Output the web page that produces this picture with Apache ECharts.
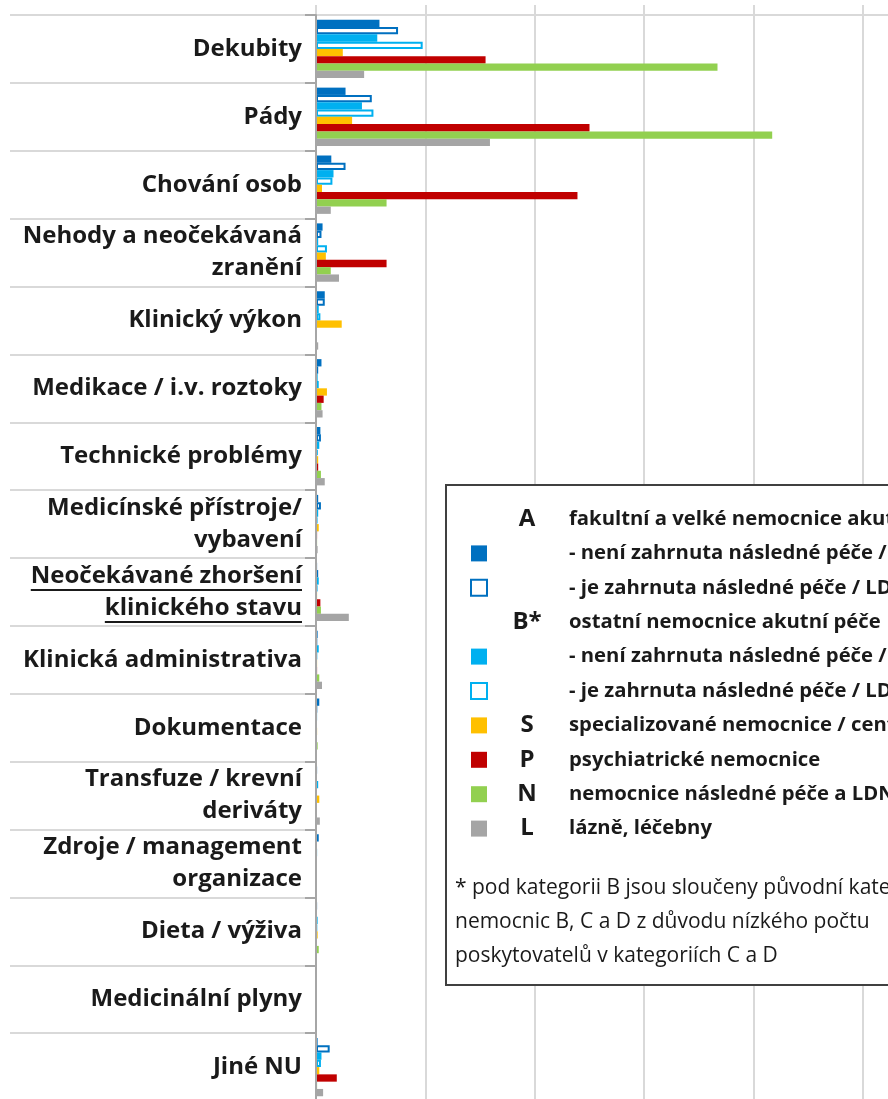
<!DOCTYPE html>
<html>
<head>
<meta charset="utf-8">
<script src="https://cdn.jsdelivr.net/npm/echarts@6/dist/echarts.min.js"></script>
<style>
  html, body { margin: 0; padding: 0; background: #fff; }
  #chart { width: 888px; height: 1099px; }
</style>
</head>
<body>
<div id="chart"></div>
<script>
// kategorie nežádoucích událostí
const categories = [
  "Dekubity",
  "Pády",
  "Chování osob",
  "Nehody a neočekávaná\nzranění",
  "Klinický výkon",
  "Medikace / i.v. roztoky",
  "Technické problémy",
  "Medicínské přístroje/\nvybavení",
  "Neočekávané zhoršení\nklinického stavu",
  "Klinická administrativa",
  "Dokumentace",
  "Transfuze / krevní\nderiváty",
  "Zdroje / management\norganizace",
  "Dieta / výživa",
  "Medicinální plyny",
  "Jiné NU"
];

// hodnoty (jednotka = 1/10 mřížky)
const aNone = [5.8, 2.7, 1.4, 0.6, 0.8, 0.5, 0.4, 0.2, 0.1, 0.15, 0.3, 0.1, 0.25, 0.1, 0, 0.15];
const aIncl = [7.5, 5.1, 2.7, 0.5, 0.8, 0.2, 0.45, 0.45, 0.2, 0.05, 0.05, 0, 0, 0, 0, 1.25];
const bNone = [5.6, 4.2, 1.6, 0.2, 0.25, 0.15, 0.3, 0.2, 0.25, 0.25, 0.1, 0.2, 0.1, 0.15, 0, 0.5];
const bIncl = [9.75, 5.25, 1.5, 1.0, 0.4, 0.25, 0.15, 0.1, 0.1, 0.05, 0, 0, 0, 0.05, 0, 0.45];
const sVals = [2.45, 3.3, 0.55, 0.9, 2.35, 1.0, 0.2, 0.25, 0.1, 0.1, 0.1, 0.3, 0.05, 0.15, 0.05, 0.3];
const pVals = [15.5, 25.0, 23.9, 6.45, 0, 0.7, 0.2, 0.1, 0.4, 0.1, 0, 0, 0, 0, 0, 1.9];
const nVals = [36.7, 41.7, 6.45, 1.35, 0, 0.5, 0.45, 0.1, 0.45, 0.3, 0.15, 0, 0, 0.25, 0, 0.1];
const lVals = [4.4, 15.9, 1.35, 2.1, 0.2, 0.6, 0.8, 0.15, 3.0, 0.55, 0, 0.35, 0, 0, 0, 0.65];

// legenda
const legendRows = [
  { letter: "A", text: "fakultní a velké nemocnice akutní péče" },
  { swatch: "#0070C0", text: "- není zahrnuta následné péče / LDN" },
  { swatch: "#0070C0", outline: true, text: "- je zahrnuta následné péče / LDN" },
  { letter: "B*", text: "ostatní nemocnice akutní péče" },
  { swatch: "#00B0F0", text: "- není zahrnuta následné péče / LDN" },
  { swatch: "#00B0F0", outline: true, text: "- je zahrnuta následné péče / LDN" },
  { swatch: "#FFC000", letter: "S", text: "specializované nemocnice / centra" },
  { swatch: "#C00000", letter: "P", text: "psychiatrické nemocnice" },
  { swatch: "#92D050", letter: "N", text: "nemocnice následné péče a LDN" },
  { swatch: "#A5A5A5", letter: "L", text: "lázně, léčebny" }
];
const footnote = [
  "* pod kategorii B jsou sloučeny původní kategorie",
  "nemocnic B, C a D z důvodu nízkého počtu",
  "poskytovatelů v kategoriích C a D"
];

const labelFont = "Open Sans";
const labelSize = 24;

function barSeries(name, data, color, outline) {
  return {
    name: name,
    type: "bar",
    yAxisIndex: 0,
    data: data,
    barGap: "0%",
    barCategoryGap: "14%",
    silent: true,
    itemStyle: outline
      ? { color: "#fff", borderColor: color, borderWidth: 2 }
      : { color: color }
  };
}

let myChart = echarts.init(document.getElementById("chart"));

let graphics = [];
// rámeček legendy
graphics.push({
  type: "rect",
  shape: { x: 446, y: 485, width: 600, height: 500 },
  style: { fill: "#fff", stroke: "#404040", lineWidth: 2 },
  z: 10
});
legendRows.forEach(function (row, i) {
  let cy = 519 + i * 34.4;
  if (row.swatch) {
    graphics.push({
      type: "rect",
      shape: { x: 471, y: cy - 8, width: 16, height: 16 },
      style: row.outline
        ? { fill: "#fff", stroke: row.swatch, lineWidth: 2 }
        : { fill: row.swatch },
      z: 11
    });
  }
  if (row.letter) {
    graphics.push({
      type: "text",
      x: 527, y: cy,
      style: {
        text: row.letter, fill: "#1a1a1a",
        font: "bold 24px " + labelFont,
        align: "center", verticalAlign: "middle"
      },
      z: 11
    });
  }
  graphics.push({
    type: "text",
    x: 569, y: cy,
    style: {
      text: row.text, fill: "#1a1a1a",
      font: "bold 20.3px " + labelFont,
      align: "left", verticalAlign: "middle"
    },
    z: 11
  });
});
footnote.forEach(function (line, i) {
  graphics.push({
    type: "text",
    x: 455, y: 888 + i * 34,
    style: {
      text: line, fill: "#1a1a1a",
      font: "21px " + labelFont,
      align: "left", verticalAlign: "middle"
    },
    z: 11
  });
});

let option = {
  animation: false,
  grid: {
    left: 316,
    top: 15,
    width: 656.4,
    bottom: -2,
    containLabel: false,
    outerBoundsMode: "none"
  },
  xAxis: {
    type: "value",
    position: "top",
    min: 0,
    max: 60,
    interval: 10,
    axisLabel: { show: false },
    axisLine: { show: true, lineStyle: { color: "#d9d9d9", width: 2 } },
    axisTick: { show: true, length: 10, lineStyle: { color: "#d9d9d9", width: 2 } },
    splitLine: { show: true, lineStyle: { color: "#d9d9d9", width: 2 } }
  },
  yAxis: [
    {
      type: "category",
      data: categories,
      inverse: true,
      position: "left",
      axisLine: { show: true, lineStyle: { color: "#a6a6a6", width: 2 } },
      axisTick: { show: true, length: 11, lineStyle: { color: "#a6a6a6", width: 2 } },
      axisLabel: {
        show: true,
        margin: 14,
        color: "#1a1a1a",
        fontFamily: labelFont,
        fontWeight: "bold",
        fontSize: labelSize,
        lineHeight: 32,
        align: "right"
      },
      z: 3
    },
    {
      type: "category",
      data: categories,
      inverse: true,
      position: "left",
      offset: 0,
      axisLine: { show: false },
      axisTick: { show: true, length: 306, lineStyle: { color: "#d9d9d9", width: 2 } },
      axisLabel: { show: false },
      z: 1
    }
  ],
  series: [
    barSeries("A - není zahrnuta", aNone, "#0070C0", false),
    barSeries("A - je zahrnuta", aIncl, "#0070C0", true),
    barSeries("B - není zahrnuta", bNone, "#00B0F0", false),
    barSeries("B - je zahrnuta", bIncl, "#00B0F0", true),
    barSeries("S", sVals, "#FFC000", false),
    barSeries("P", pVals, "#C00000", false),
    barSeries("N", nVals, "#92D050", false),
    barSeries("L", lVals, "#A5A5A5", false)
  ],
  graphic: graphics
};

myChart.setOption(option, true);

// podtržení popisku "Neočekávané zhoršení klinického stavu"
let ctx = document.createElement("canvas").getContext("2d");
ctx.font = "bold " + labelSize + "px " + labelFont;
let idx = 8;
let cy = myChart.convertToPixel({ yAxisIndex: 0 }, idx);
let lines = categories[idx].split("\n");
let rightX = 316 - 14;
lines.forEach(function (line, i) {
  let w = ctx.measureText(line).width;
  let yLine = cy + (i - (lines.length - 1) / 2) * 32 + 14;
  graphics.push({
    type: "line",
    shape: { x1: rightX - w, y1: yLine, x2: rightX, y2: yLine },
    style: { stroke: "#1a1a1a", lineWidth: 2 },
    z: 11
  });
});
myChart.setOption({ graphic: graphics });
</script>
</body>
</html>
